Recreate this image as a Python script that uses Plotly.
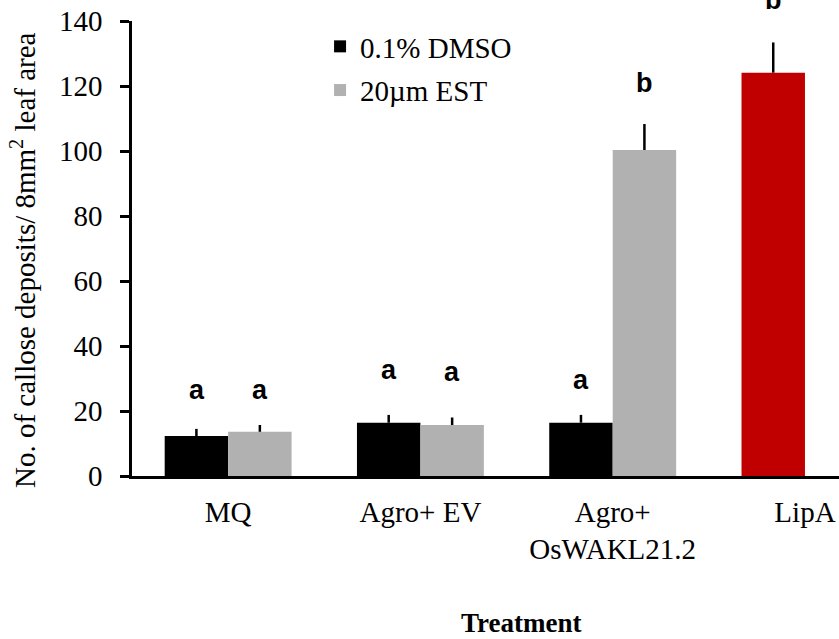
import plotly.graph_objects as go

categories = ["MQ", "Agro+ EV", "Agro+<br>OsWAKL21.2", "LipA"]
dmso_vals = [12.3, 16.4, 16.4]
dmso_err = [2.2, 2.4, 2.4]
est_vals = [13.6, 15.7, 100.3]
est_err = [2.1, 2.3, 8.0]
lipa_vals = [124.1]
lipa_err = [9.3]

dmso_letters = ["a", "a", "a"]
dmso_letter_y = [26.5, 32.6, 29.5]
est_letters = ["a", "a", "b"]
est_letter_y = [26.5, 32.0, 120.8]
lipa_letters = ["b"]
lipa_letter_y = [146.5]

y_ticks = [0, 20, 40, 60, 80, 100, 120, 140]
Y_MAX = 140

BW = 0.33
serif = "Liberation Serif, Times New Roman, serif"
sans = "Liberation Sans, Arial, sans-serif"

fig = go.Figure()
fig.add_trace(go.Bar(
    x=categories[:3], y=dmso_vals, name="0.1% DMSO",
    marker=dict(color="#000000", line=dict(width=0)),
    width=BW, offset=-BW,
    error_y=dict(type="data", symmetric=False, array=dmso_err,
                 arrayminus=[0] * 3, color="black", thickness=2.5, width=0),
    legendgroup="g1",
))
fig.add_trace(go.Bar(
    x=categories[:3], y=est_vals, name="20µm EST",
    marker=dict(color="#b1b1b1", line=dict(width=0)),
    width=BW, offset=0,
    error_y=dict(type="data", symmetric=False, array=est_err,
                 arrayminus=[0] * 3, color="black", thickness=2.5, width=0),
    legendgroup="g2",
))
fig.add_trace(go.Bar(
    x=categories[3:], y=lipa_vals, name="LipA",
    marker=dict(color="#c00000", line=dict(width=0)),
    width=BW, offset=-BW, showlegend=False,
    error_y=dict(type="data", symmetric=False, array=lipa_err,
                 arrayminus=[0], color="black", thickness=2.5, width=0),
))

letter_font = dict(family=sans, size=27, color="black")
annots = []
for cat, t, yv in zip(categories[:3], dmso_letters, dmso_letter_y):
    annots.append(dict(x=cat, y=yv / Y_MAX, text="<b>" + t + "</b>", showarrow=False,
                       xshift=-31.5, yanchor="middle", xanchor="center",
                       font=letter_font, xref="x", yref="y domain"))
for cat, t, yv in zip(categories[:3], est_letters, est_letter_y):
    annots.append(dict(x=cat, y=yv / Y_MAX, text="<b>" + t + "</b>", showarrow=False,
                       xshift=31.5, yanchor="middle", xanchor="center",
                       font=letter_font, xref="x", yref="y domain"))
for cat, t, yv in zip(categories[3:], lipa_letters, lipa_letter_y):
    annots.append(dict(x=cat, y=yv / Y_MAX, text="<b>" + t + "</b>", showarrow=False,
                       xshift=-31.5, yanchor="middle", xanchor="center",
                       font=letter_font, xref="x", yref="y domain"))

annots.append(dict(xref="paper", yref="paper", x=-0.154, y=0.475,
                   xanchor="center", yanchor="middle",
                   text="No. of callose deposits/ 8mm<sup>2</sup> leaf area",
                   textangle=-90, showarrow=False,
                   font=dict(family=serif, size=29, color="black")))
annots.append(dict(xref="paper", yref="paper", x=0.55, y=-0.322,
                   xanchor="center", yanchor="middle",
                   text="<b>Treatment</b>", showarrow=False,
                   font=dict(family=serif, size=27, color="black")))

fig.update_layout(
    width=839, height=639,
    margin=dict(l=132, r=0, t=21, b=163),
    paper_bgcolor="white", plot_bgcolor="white",
    barmode="overlay",
    showlegend=True,
    legend=dict(x=0.266, y=1.0, xanchor="left", yanchor="top",
                font=dict(family=serif, size=29, color="black"),
                bgcolor="rgba(0,0,0,0)", traceorder="grouped",
                tracegroupgap=3),
    annotations=annots,
    xaxis=dict(type="category", categoryarray=categories,
               range=[-0.5, 3.177], showgrid=False, zeroline=False,
               showline=True, linecolor="black", linewidth=2.5,
               ticks="", tickfont=dict(family=serif, size=29, color="black"),
               ticklabelstandoff=8),
    yaxis=dict(range=[0, Y_MAX], tickvals=y_ticks, showgrid=False, zeroline=False,
               showline=True, linecolor="black", linewidth=2.5,
               ticks="outside", ticklen=9, tickwidth=2.5, tickcolor="black",
               ticklabelstandoff=12,
               tickfont=dict(family=serif, size=29, color="black")),
)

fig.write_html("out.html")
